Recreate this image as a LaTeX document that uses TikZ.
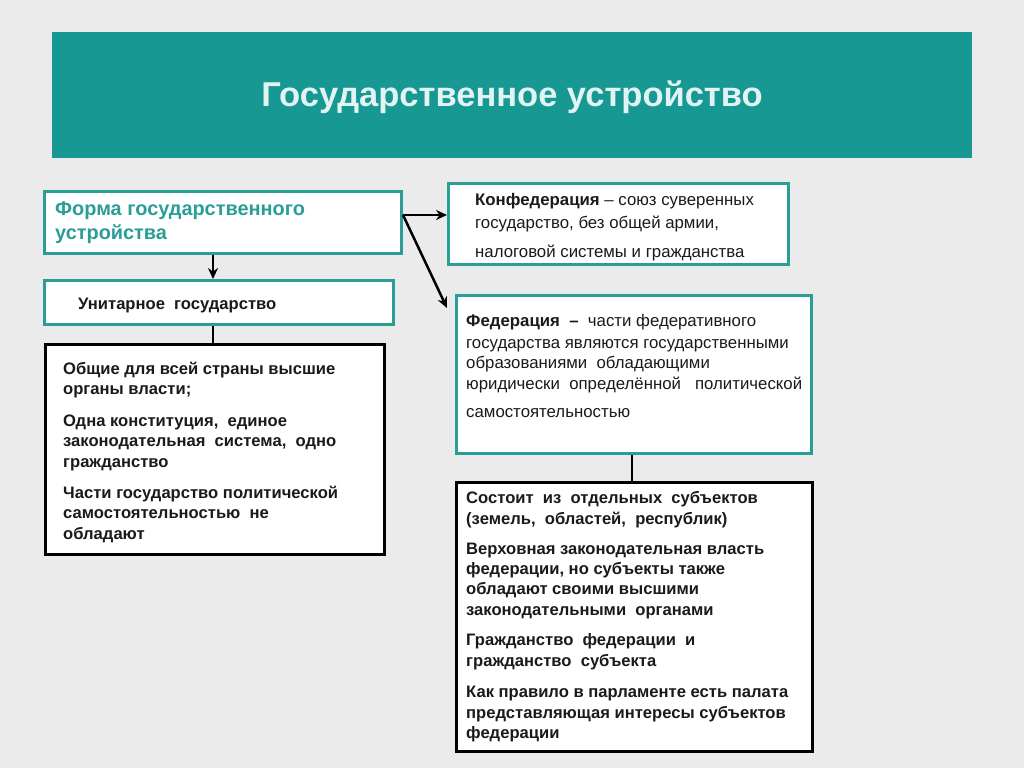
\documentclass[tikz,border=0pt]{standalone}
\usepackage{fontspec}
\setmainfont{Liberation Sans}
\usetikzlibrary{arrows.meta}
\definecolor{bg}{HTML}{EBEBEB}
\definecolor{teal1}{HTML}{179892}
\definecolor{tealbord}{HTML}{2A9D96}
\definecolor{titletext}{HTML}{E2F3F3}
\definecolor{txtc}{HTML}{1A1A1A}
\tikzset{
  tbox/.style={draw=tealbord, line width=3pt, fill=white, rectangle, inner sep=0pt, anchor=north west},
  kbox/.style={draw=black, line width=2.5pt, fill=white, rectangle, inner sep=0pt, anchor=north west},
  bl/.style={anchor=base west, inner sep=0pt, font=\fontsize{16.6}{20}\selectfont\bfseries, text=txtc},
  rl/.style={anchor=base west, inner sep=0pt, font=\fontsize{16.8}{20}\selectfont, text=txtc},
  conn/.style={line width=2.5pt, draw=black},
  arr/.style={conn, -{Stealth[length=11pt,width=10pt]}}
}
\begin{document}
\begin{tikzpicture}[x=1pt,y=-1pt]
\fill[bg] (0,0) rectangle (1024,768);
\useasboundingbox (0,0) rectangle (1024,768);
% title
\node[fill=teal1, inner sep=0pt, minimum width=920pt, minimum height=126pt, anchor=north west] (title) at (52,32) {};
\node[text=titletext, font=\fontsize{34.5}{40}\selectfont\bfseries] (titletxt) at (512,97) {Государственное устройство};
% form box
\node[tbox, minimum width=357pt, minimum height=62pt] (forma) at (43,190) {};
\node[anchor=base west, inner sep=0pt, text=tealbord, font=\fontsize{19.9}{22}\selectfont\bfseries] (f1) at (55,215) {Форма государственного};
\node[anchor=base west, inner sep=0pt, text=tealbord, font=\fontsize{19.9}{22}\selectfont\bfseries] (f2) at (55,239) {устройства};
% confederation
\node[tbox, minimum width=340pt, minimum height=81pt] (konf) at (447,182) {};
\node[rl] (k1) at (475,205) {\textbf{Конфедерация} – союз суверенных};
\node[rl] (k2) at (475,228) {государство, без общей армии,};
\node[rl] (k3) at (475,257) {налоговой системы и гражданства};
% unitary
\node[tbox, minimum width=349pt, minimum height=44pt] (unit) at (43,279) {};
\node[bl] (u0) at (78,309) {Унитарное \ государство};
\node[kbox, minimum width=339pt, minimum height=210pt] (unitd) at (44,343) {};
\node[bl] (u1) at (63,374) {Общие для всей страны высшие};
\node[bl] (u2) at (63,394) {органы власти;};
\node[bl] (u3) at (63,426) {Одна конституция, \ единое};
\node[bl] (u4) at (63,446) {законодательная \ система, \ одно};
\node[bl] (u5) at (63,467) {гражданство};
\node[bl] (u6) at (63,498) {Части государство политической};
\node[bl] (u7) at (63,518) {самостоятельностью \ не};
\node[bl] (u8) at (63,539) {обладают};
% federation
\node[tbox, minimum width=355pt, minimum height=158pt] (fed) at (455,294) {};
\node[rl] (e1) at (466,326) {\textbf{Федерация} \ \textbf{–} \ части федеративного};
\node[rl] (e2) at (466,348) {государства являются государственными};
\node[rl] (e3) at (466,368) {образованиями \ обладающими};
\node[rl] (e4) at (466,389) {юридически \ определённой \ \ политической};
\node[rl] (e5) at (466,417) {самостоятельностью};
\node[kbox, minimum width=356pt, minimum height=269pt] (fedd) at (455,481) {};
\node[bl] (d1) at (466,503) {Состоит \ из \ отдельных \ субъектов};
\node[bl] (d2) at (466,524) {(земель, \ областей, \ республик)};
\node[bl] (d3) at (466,554) {Верховная законодательная власть};
\node[bl] (d4) at (466,574) {федерации, но субъекты также};
\node[bl] (d5) at (466,594) {обладают своими высшими};
\node[bl] (d6) at (466,615) {законодательными \ органами};
\node[bl] (d7) at (466,645) {Гражданство \ федерации \ и};
\node[bl] (d8) at (466,666) {гражданство \ субъекта};
\node[bl] (d9) at (466,697) {Как правило в парламенте есть палата};
\node[bl] (d10) at (466,718) {представляющая интересы субъектов};
\node[bl] (d11) at (466,738) {федерации};
% connectors
\coordinate (fr) at (forma.east |- 0,215);
\coordinate (fedtip) at (447,308);
\draw[arr] (forma.south -| 213,0) -- (unit.north -| 213,0);
\draw[conn] (unit.south -| 213,0) -- (unitd.north -| 213,0);
\draw[arr] (fr) -- (konf.west |- fr);
\draw[arr] (fr) -- (fedtip);
\draw[conn] (fed.south -| 632,0) -- (fedd.north -| 632,0);
\end{tikzpicture}
\end{document}
